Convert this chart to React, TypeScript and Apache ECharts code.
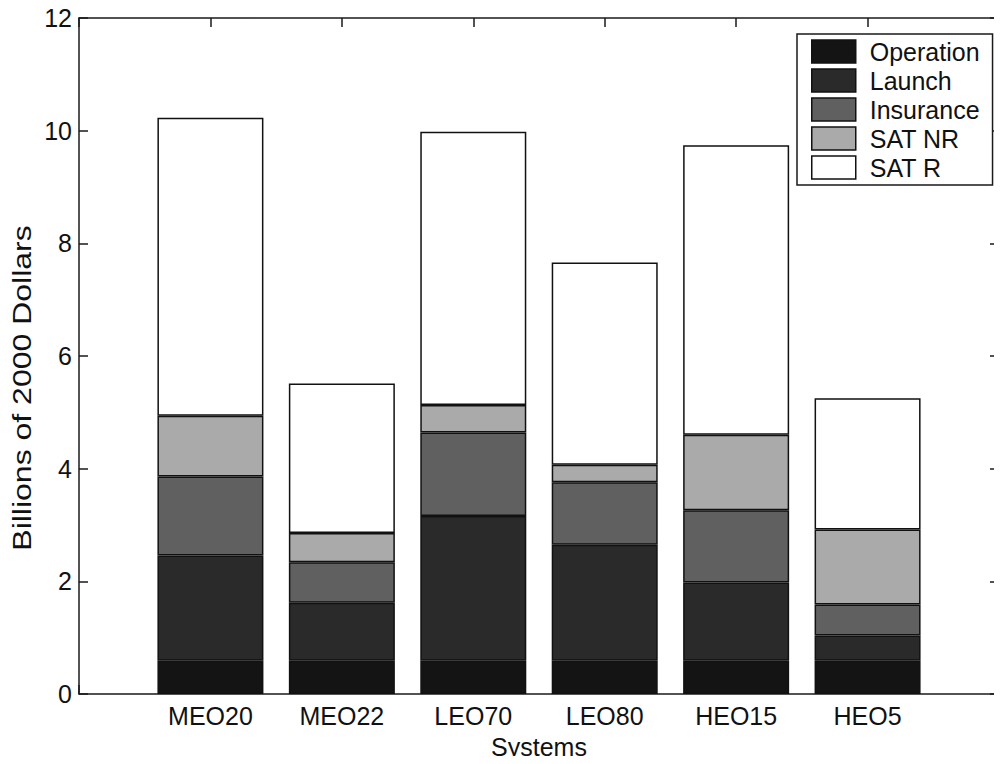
import React, { useEffect, useRef } from "react";
import * as echarts from "echarts";

const categories = ["MEO20", "MEO22", "LEO70", "LEO80", "HEO15", "HEO5"];
const seriesNames = ["Operation", "Launch", "Insurance", "SAT NR", "SAT R"];
const operation = [0.59, 0.59, 0.59, 0.59, 0.59, 0.59];
const launch = [1.87, 1.03, 2.57, 2.06, 1.39, 0.45];
const insurance = [1.4, 0.72, 1.48, 1.11, 1.28, 0.55];
const satNR = [1.08, 0.52, 0.49, 0.31, 1.34, 1.33];
const satR = [5.29, 2.65, 4.85, 3.59, 5.14, 2.33];
const yTicks = [0, 2, 4, 6, 8, 10, 12];
const colors = ["#141414", "#2a2a2a", "#606060", "#aaaaaa", "#ffffff"];

const FONT = "'Liberation Sans', Arial, Helvetica, sans-serif";

export default function App() {
  const ref = useRef<HTMLDivElement>(null);
  useEffect(() => {
    if (!ref.current) return;
    const chart = echarts.init(ref.current, undefined, { renderer: "svg" });
    const values = [operation, launch, insurance, satNR, satR];
    const axisLine = { show: true, onZero: false, lineStyle: { color: "#1a1a1a", width: 1.5 } };
    const tick = { show: true, inside: true, length: 9, lineStyle: { color: "#1a1a1a", width: 1.5 } };
    chart.setOption({
      animation: false,
      backgroundColor: "#ffffff",
      textStyle: { fontFamily: FONT, color: "#111" },
      grid: { left: 79, top: 18, width: 927, height: 677.5 },
      legend: {
        orient: "vertical",
        left: 797,
        top: 34,
        data: seriesNames,
        icon: "rect",
        itemWidth: 44,
        itemHeight: 23,
        itemGap: 4,
        padding: [5, 13, 5, 14],
        borderColor: "#1a1a1a",
        borderWidth: 1.5,
        backgroundColor: "#ffffff",
        borderRadius: 0,
        itemStyle: { borderColor: "#111", borderWidth: 1.5 },
        textStyle: { fontSize: 25, color: "#111", fontFamily: FONT, padding: [0, 0, 0, 9] },
      },
      xAxis: [
        {
          type: "value",
          min: 0,
          max: 7,
          interval: 1,
          position: "bottom",
          axisLine,
          axisTick: tick,
          splitLine: { show: false },
          axisLabel: {
            margin: 9,
            fontSize: 25,
            color: "#111",
            formatter: (v: number) => categories[v - 1] ?? "",
          },
          name: "Systems",
          nameLocation: "middle",
          nameGap: 40,
          nameTextStyle: { fontSize: 25, color: "#111" },
        },
        {
          type: "value",
          min: 0,
          max: 7,
          interval: 1,
          position: "top",
          axisLine,
          axisTick: tick,
          splitLine: { show: false },
          axisLabel: { show: false },
        },
      ],
      yAxis: [
        {
          type: "value",
          min: yTicks[0],
          max: yTicks[yTicks.length - 1],
          interval: 2,
          position: "left",
          axisLine,
          axisTick: tick,
          splitLine: { show: false },
          axisLabel: { margin: 7, fontSize: 25, color: "#111" },
        },
        {
          type: "value",
          min: yTicks[0],
          max: yTicks[yTicks.length - 1],
          interval: 2,
          position: "right",
          axisLine,
          axisTick: tick,
          splitLine: { show: false },
          axisLabel: { show: false },
        },
      ],
      graphic: [
        {
          type: "text",
          x: 22.5,
          y: 388,
          rotation: Math.PI / 2,
          scaleX: 1.28,
          style: {
            text: "Billions of 2000 Dollars",
            font: `25px ${FONT}`,
            fill: "#111",
            align: "center",
            verticalAlign: "middle",
          },
        },
      ],
      series: seriesNames.map((name, s) => ({
        name,
        type: "bar",
        stack: "total",
        xAxisIndex: 0,
        yAxisIndex: 0,
        barWidth: 106,
        encode: { x: 1, y: 0 },
        itemStyle: { color: colors[s], borderColor: "#111", borderWidth: 1.5 },
        data: categories.map((_, i) => [values[s][i], i + 1]),
      })),
    });
    return () => chart.dispose();
  }, []);
  return <div ref={ref} style={{ width: 1002, height: 764, margin: -8 }} />;
}
